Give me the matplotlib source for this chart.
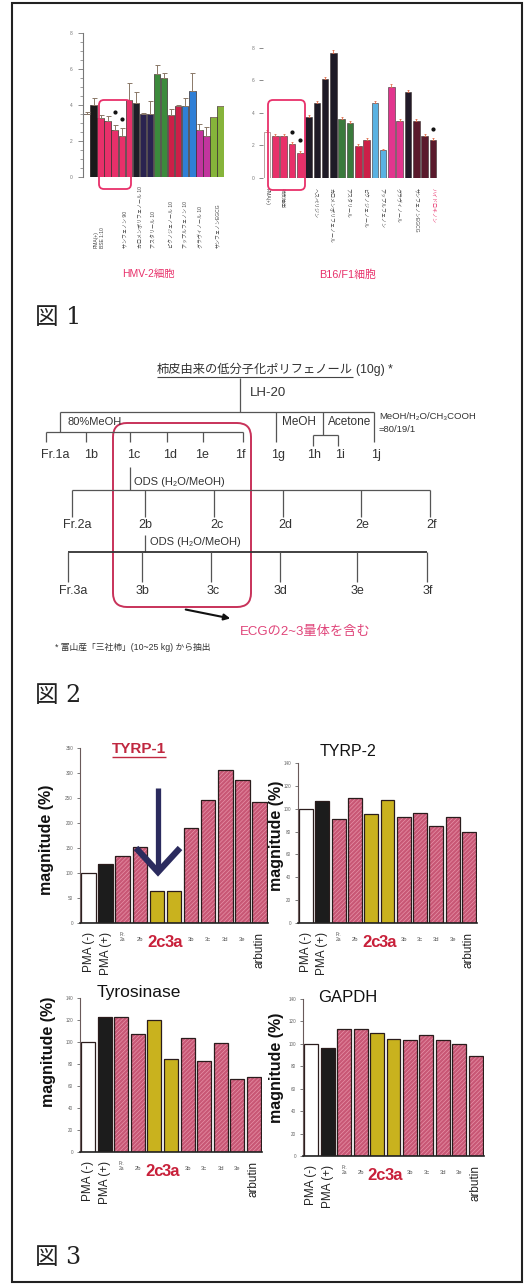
import matplotlib
matplotlib.use("Agg")
import matplotlib.pyplot as plt
from matplotlib.patches import FancyBboxPatch, FancyArrowPatch, Rectangle
from matplotlib.transforms import offset_copy
from matplotlib.ticker import MultipleLocator

plt.rcParams['font.family'] = ['Liberation Sans', 'Noto Sans CJK JP', 'DejaVu Sans']
plt.rcParams['hatch.linewidth'] = 0.5

# ---------------- data: figure 1 (melanin content) ----------------
hmv_values = [3.5, 4.0, 3.3, 3.1, 2.6, 2.3, 4.3, 4.1, 3.5, 3.5,
              5.7, 5.5, 3.45, 3.95, 3.95, 4.8, 2.6, 2.3, 3.35, 3.95]
hmv_errors = [0.1, 0.4, 0.15, 0.3, 0.3, 0.45, 0.9, 0.6, 0.05, 0.7,
              0.5, 0.3, 0.35, 0.05, 0.45, 1.0, 0.35, 0.5, 0.0, 0.0]
hmv_signif_bars = [4, 5]
hmv_signif_y = [3.6, 3.2]
hmv_labels = ["PMA(+)", "BSE 1:10", "サンフェノン 90", "カロメンポリフェノール 10",
              "アスタリール 10", "ピクノジェノール 10", "アップルフェノン 10",
              "グラヴィノール 10", "サンフェノンEGCG"]
hmv_label_slots = [1.4, 2.3, 5.4, 7.6, 9.4, 12.0, 14.0, 16.2, 18.6]

b16_values = [2.8, 2.55, 2.6, 2.1, 1.55, 3.75, 4.6, 6.1, 7.7, 3.65, 3.35,
              1.98, 2.3, 4.63, 1.68, 5.6, 3.5, 5.3, 3.5, 2.6, 2.3]
b16_errors = [0.12, 0.12, 0.12, 0.12, 0.12, 0.12, 0.15, 0.12, 0.2, 0.12, 0.12,
              0.12, 0.12, 0.12, 0.12, 0.15, 0.12, 0.12, 0.12, 0.12, 0.12]
b16_signif_bars = [3, 4, 20]
b16_signif_y = [2.8, 2.35, 3.0]
b16_labels = ["PMA(+)", "柿皮抽出", "ヘスペリジン", "カロメンポリフェノール",
              "アスタリール", "ピクノジェノール", "アップルフェノン",
              "グラヴィノール", "サンフェノンEGCG", "ハイドロキノン"]
b16_label_slots = [0.0, 1.9, 5.8, 7.8, 9.8, 11.8, 13.9, 15.8, 18.0, 20.0]

# ---------------- data: figure 3 (mRNA expression) ----------------
samples = ["PMA (-)", "PMA (+)", "Fr.2a", "2b", "2c", "3a",
           "3b", "3c", "3d", "3e", "arbutin"]
tyrp1_values = [100, 118, 134, 153, 65, 64, 191, 247, 306, 287, 243]
tyrp2_values = [100, 107, 91, 109, 95, 108, 93, 96, 85, 93, 80]
tyrosinase_values = [100, 123, 123, 107, 120, 85, 104, 83, 99, 66, 68]
gapdh_values = [100, 96, 113, 113, 110, 104, 103, 108, 103, 100, 89]

# ---------------- styles ----------------
HOT_PINK = '#e8306a'
hmv_colors = ['#ffffff', '#1a1a1a'] + [HOT_PINK] * 5 + ['#1e1e28', '#2a2350', '#2a2350',
              '#3c8a3c', '#3c8a3c', '#cc1f48', '#cc1f48', '#2f7fd6', '#2f7fd6',
              '#c2359e', '#c2359e', '#86b43a', '#86b43a']
b16_colors = ['#ffffff'] + [HOT_PINK] * 4 + ['#1e1a26'] * 4 + ['#3a7a3c'] * 2 + \
             ['#cc1f48'] * 2 + ['#5ab2e2'] * 2 + ['#e2358e'] * 2 + ['#221a28'] + ['#5a1a2c'] * 3
b16_label_colors = ['#444'] * 9 + [HOT_PINK]

W, H = 530, 1287
fig = plt.figure(figsize=(W / 100, H / 100), dpi=100)
fig.patch.set_facecolor('white')


def add_ax(x0, x1, ytop, ybot):
    return fig.add_axes([x0 / W, 1 - ybot / H, (x1 - x0) / W, (ybot - ytop) / H])


ov = fig.add_axes([0, 0, 1, 1], zorder=10)
ov.set_xlim(0, W)
ov.set_ylim(H, 0)
ov.axis('off')

TEXT = '#333333'
LINE = '#555555'


def seg(x1, y1, x2, y2, lw=0.9, color=LINE):
    ov.plot([x1, x2], [y1, y2], color=color, lw=lw, solid_capstyle='butt')


# outer frame
ov.add_patch(Rectangle((12, 3), 510, 1279, fill=False, lw=1.5, ec='#222222'))

# ================= Figure 1 =================
ax = add_ax(83, 224, 33, 177)
n = len(hmv_values)
ax.bar(range(n), hmv_values, width=0.92, color=hmv_colors, edgecolor='#3a3030', linewidth=0.5,
       yerr=[[0] * n, hmv_errors],
       error_kw=dict(ecolor='#8a7868', elinewidth=0.7, capsize=1.8, capthick=0.7))
ax.plot(hmv_signif_bars, hmv_signif_y, 'o', color='#111111', ms=2)
ax.set_xlim(-0.5, 19.5)
ax.set_ylim(0, 8)
for s in ['top', 'right', 'bottom']:
    ax.spines[s].set_visible(False)
ax.spines['left'].set_color('#777777')
ax.spines['left'].set_linewidth(0.8)
ax.set_xticks([])
ax.set_yticks([0, 2, 4, 6, 8])
ax.yaxis.set_minor_locator(MultipleLocator(0.5))
ax.tick_params(axis='y', which='major', labelsize=3.5, labelcolor='#777777', length=3.5,
               width=0.6, color='#777777', pad=4)
ax.tick_params(axis='y', which='minor', length=2, width=0.5, color='#777777')
ax.set_facecolor('none')
tf = offset_copy(ax.get_xaxis_transform(), fig=fig, y=-71, units='dots')
for lab, slot in zip(hmv_labels, hmv_label_slots):
    ax.text(slot, 0, lab, transform=tf, rotation=90, ha='center', va='bottom',
            fontsize=3.6, color='#444444', clip_on=False)
ov.text(148, 274, 'HMV-2細胞', ha='center', va='center', fontsize=7.5, color=HOT_PINK)
ov.add_patch(FancyBboxPatch((99, 100), 32, 89, boxstyle='round,pad=0,rounding_size=5',
                            fill=False, ec=HOT_PINK, lw=1.3))

ax = add_ax(263, 437, 48, 177.7)
n = len(b16_values)
ax.bar(range(n), b16_values, width=0.8, color=b16_colors, edgecolor='#3a3030', linewidth=0.4,
       yerr=[[0] * n, b16_errors],
       error_kw=dict(ecolor='#e07050', elinewidth=0.6, capsize=1, capthick=0.6))
ax.patches[0].set_edgecolor('#8a5a5a')
ax.plot(b16_signif_bars, b16_signif_y, 'o', color='#111111', ms=2)
ax.set_xlim(-0.5, 20.5)
ax.set_ylim(0, 8)
for s in ax.spines.values():
    s.set_visible(False)
ax.set_xticks([])
ax.set_yticks([0, 2, 4, 6, 8])
ax.tick_params(axis='y', labelsize=3.5, labelcolor='#777777', length=3, width=0.6,
               color='#777777', pad=3)
ax.set_facecolor('none')
tf = offset_copy(ax.get_xaxis_transform(), fig=fig, y=-10, units='dots')
for lab, slot, c in zip(b16_labels, b16_label_slots, b16_label_colors):
    ax.text(slot, 0, lab, transform=tf, rotation=-90, ha='center', va='top',
            fontsize=3.6, color=c, clip_on=False)
ov.text(348, 275, 'B16/F1細胞', ha='center', va='center', fontsize=7.8, color=HOT_PINK)
ov.add_patch(FancyBboxPatch((268, 100), 37, 90, boxstyle='round,pad=0,rounding_size=5',
                            fill=False, ec=HOT_PINK, lw=1.3))

FIGLABEL = dict(fontsize=17, ha='left', va='center', color='#222222',
                family=['DejaVu Serif', 'Noto Sans CJK JP'])
ov.text(35, 317, '図 1', **FIGLABEL)

# ================= Figure 2 (fractionation scheme) =================
r = fig.canvas.get_renderer()
t = ov.text(157, 370, '柿皮由来の低分子化ポリフェノール', fontsize=8.8, ha='left', va='center',
            color=TEXT)
bb = t.get_window_extent(r)
seg(157, 377, bb.x1, 377, lw=0.8, color='#444444')
ov.text(bb.x1 + 3, 370, '(10g) *', fontsize=8.8, ha='left', va='center', color=TEXT)

seg(240, 378, 240, 412)
ov.text(250, 393, 'LH-20', fontsize=9.5, ha='left', va='center', color=TEXT)
seg(60, 412, 374, 412)
seg(60, 412, 60, 432)
seg(46, 432, 243, 432)
for xx in [46, 86, 130, 167, 203, 243]:
    seg(xx, 432, xx, 442)
ov.text(68, 422, '80%MeOH', fontsize=8, ha='left', va='center', color=TEXT)
seg(276, 412, 276, 442)
ov.text(282, 422, 'MeOH', fontsize=8.5, ha='left', va='center', color=TEXT)
seg(323, 412, 323, 435)
ov.text(328, 422, 'Acetone', fontsize=8.5, ha='left', va='center', color=TEXT)
seg(313, 435, 338, 435)
seg(313, 435, 313, 446)
seg(338, 435, 338, 446)
seg(374, 412, 374, 442)
ov.text(379, 417, 'MeOH/H₂O/CH₃COOH', fontsize=6.8, ha='left', va='center', color=TEXT)
ov.text(379, 430, '=80/19/1', fontsize=6.8, ha='left', va='center', color=TEXT)

row1 = [("Fr.1a", 55), ("1b", 91), ("1c", 134), ("1d", 170), ("1e", 202), ("1f", 240),
        ("1g", 278), ("1h", 314), ("1i", 340), ("1j", 376)]
for lab, xx in row1:
    ov.text(xx, 455, lab, fontsize=9, ha='center', va='center', color=TEXT)

seg(130, 467, 130, 490)
ov.text(134, 482, 'ODS (H₂O/MeOH)', fontsize=8, ha='left', va='center', color=TEXT)
seg(72, 490, 430, 490)
for xx in [72, 145, 214, 283, 361, 430]:
    seg(xx, 490, xx, 517)
row2 = [("Fr.2a", 77), ("2b", 145), ("2c", 217), ("2d", 285), ("2e", 362), ("2f", 432)]
for lab, xx in row2:
    ov.text(xx, 525, lab, fontsize=9, ha='center', va='center', color=TEXT)

seg(145, 535, 145, 552)
ov.text(150, 542, 'ODS (H₂O/MeOH)', fontsize=8, ha='left', va='center', color=TEXT)
seg(68, 552, 427, 552, lw=1.3, color='#333333')
for xx in [68, 142, 211, 280, 357, 427]:
    seg(xx, 552, xx, 582)
row3 = [("Fr.3a", 73), ("3b", 142), ("3c", 213), ("3d", 281), ("3e", 357), ("3f", 428)]
for lab, xx in row3:
    ov.text(xx, 591, lab, fontsize=9, ha='center', va='center', color=TEXT)

ov.add_patch(FancyBboxPatch((113, 423), 138, 184, boxstyle='round,pad=0,rounding_size=14',
                            fill=False, ec='#c8325a', lw=1.4))
ov.add_patch(FancyArrowPatch((183, 609), (233, 619), arrowstyle='-|>', mutation_scale=9,
                             lw=1.5, color='#111111'))
ov.text(240, 632, 'ECGの2~3量体を含む', fontsize=9.5, ha='left', va='center', color='#e0457a')
ov.text(55, 647, '* 富山産「三社柿」(10~25 kg) から抽出', fontsize=6.3, ha='left', va='center',
        color=TEXT)
ov.text(35, 696, '図 2', **FIGLABEL)

# ================= Figure 3 (expression panels) =================
FACE = {'PMA (-)': '#ffffff', 'PMA (+)': '#1c1c1c', '2c': '#c9b21e', '3a': '#c9b21e'}
PINK_FACE = '#c85775'
PINK_HATCH = '#e793a9'
RED_LABEL = '#c8203a'


def expression_panel(x0, x1, ytop, ybot, values, ymax, step):
    ax = add_ax(x0, x1, ytop, ybot)
    xs = list(range(len(values)))
    faces = [FACE.get(s, PINK_FACE) for s in samples]
    bars = ax.bar(xs, values, width=0.85, color=faces, linewidth=0)
    for p, s in zip(bars, samples):
        if s not in FACE:
            p.set_hatch('////////')
            p.set_edgecolor(PINK_HATCH)
    ax.bar(xs, values, width=0.85, fill=False, edgecolor='#2a1c1c', linewidth=0.9)
    ax.set_xlim(-0.5, len(values) - 0.5)
    ax.set_ylim(0, ymax)
    for s in ['top', 'right']:
        ax.spines[s].set_visible(False)
    ax.spines['left'].set_color('#6a5a5a')
    ax.spines['left'].set_linewidth(0.8)
    ax.spines['bottom'].set_color('#222222')
    ax.spines['bottom'].set_linewidth(1.2)
    ax.set_xticks([])
    ax.set_yticks(range(0, ymax + 1, step))
    ax.tick_params(axis='y', labelsize=3.3, labelcolor='#666666', length=2, width=0.6,
                   color='#666666', pad=3)
    ax.set_facecolor('none')
    for i, s in enumerate(samples):
        if s.startswith('PMA') or s == 'arbutin':
            tf = offset_copy(ax.get_xaxis_transform(), fig=fig, y=-9, units='dots')
            ax.text(i, 0, s, transform=tf, rotation=90, ha='center', va='top',
                    fontsize=8.5, color='#222222', clip_on=False)
        elif s in ('2c', '3a'):
            tf = offset_copy(ax.get_xaxis_transform(), fig=fig, y=-12, units='dots')
            ax.text(i, 0, s, transform=tf, ha='center', va='top', fontsize=12,
                    fontweight='bold', color=RED_LABEL, clip_on=False)
        elif s.startswith('Fr.'):
            tf = offset_copy(ax.get_xaxis_transform(), fig=fig, y=-9, units='dots')
            ax.text(i, 0, s.replace('.', '.\n'), transform=tf, ha='center', va='top',
                    fontsize=3.5, color='#555555', linespacing=0.9, clip_on=False)
        else:
            tf = offset_copy(ax.get_xaxis_transform(), fig=fig, y=-14, units='dots')
            ax.text(i, 0, s, transform=tf, ha='center', va='top', fontsize=4.2,
                    color='#555555', clip_on=False)
    return ax


YLAB = dict(rotation=90, ha='center', va='center', fontsize=11.5, fontweight='bold',
            color='#111111')

expression_panel(80, 268, 748, 923, tyrp1_values, 350, 50)
t = ov.text(139, 749, 'TYRP-1', ha='center', va='center', fontsize=11, fontweight='bold',
            color='#c02840')
bb = t.get_window_extent(r)
seg(bb.x0, 757, bb.x1, 757, lw=1.0, color='#c02840')
ov.text(47, 840, 'magnitude (%)', **YLAB)
# downward arrow pointing at the 2c / 3a fractions
ov.plot([158, 158], [788, 868], color='#2b2b5e', lw=3.8, solid_capstyle='butt')
ov.plot([136, 158, 180], [848, 872, 848], color='#2b2b5e', lw=4.5,
        solid_joinstyle='miter', solid_capstyle='butt')

expression_panel(298, 477, 763, 923, tyrp2_values, 140, 20)
ov.text(348, 751, 'TYRP-2', ha='center', va='center', fontsize=11.5, color='#111111')
ov.text(277, 836, 'magnitude (%)', **YLAB)

expression_panel(80, 262, 998, 1152, tyrosinase_values, 140, 20)
ov.text(97, 992, 'Tyrosinase', ha='left', va='center', fontsize=12.5, color='#111111')
ov.text(49, 1052, 'magnitude (%)', **YLAB)

expression_panel(303, 484, 999, 1156, gapdh_values, 140, 20)
ov.text(318, 998, 'GAPDH', ha='left', va='center', fontsize=12, color='#111111')
ov.text(277, 1068, 'magnitude (%)', **YLAB)

ov.text(35, 1257, '図 3', **FIGLABEL)

fig.savefig('out.png', dpi=100, facecolor='white')
